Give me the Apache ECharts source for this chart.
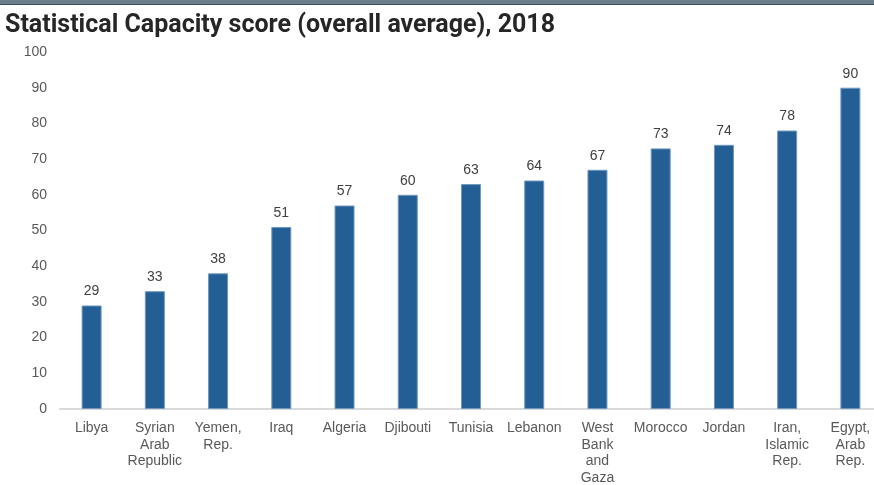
<!DOCTYPE html>
<html>
<head>
<meta charset="utf-8">
<script src="https://cdn.jsdelivr.net/npm/echarts@6/dist/echarts.min.js"></script>
<style>
  html, body { margin: 0; padding: 0; background: #fff; }
  #chart { width: 874px; height: 485px; }
</style>
</head>
<body>
<div id="chart"></div>
<script>
// Statistical Capacity scores, 2018
var countries = [
  'Libya', 'Syrian\nArab\nRepublic', 'Yemen,\nRep.', 'Iraq', 'Algeria', 'Djibouti',
  'Tunisia', 'Lebanon', 'West\nBank\nand\nGaza', 'Morocco', 'Jordan',
  'Iran,\nIslamic\nRep.', 'Egypt,\nArab\nRep.'
];
var scores = [29, 33, 38, 51, 57, 60, 63, 64, 67, 73, 74, 78, 90];
var yTicks = { min: 0, max: 100, step: 10 };
var titleText = 'Statistical Capacity score (overall average), 2018';

var chart = echarts.init(document.getElementById('chart'), null, { renderer: 'canvas' });
chart.setOption({
  animation: false,
  backgroundColor: '#ffffff',
  graphic: [
    { type: 'rect', left: 0, top: 0, shape: { width: 874, height: 4 }, style: { fill: '#6b7f8a' } },
    { type: 'rect', left: 0, top: 4, shape: { width: 874, height: 1 }, style: { fill: '#3d4a52' } }
  ],
  title: {
    text: titleText,
    left: 0,
    top: 8,
    textStyle: {
      fontFamily: 'Roboto, sans-serif',
      fontWeight: 'bold',
      fontSize: 25,
      color: '#262626'
    }
  },
  grid: { left: 60, top: 52, width: 822, height: 357, containLabel: false, outerBoundsMode: 'none' },
  xAxis: {
    type: 'category',
    data: countries,
    axisLine: { show: true, lineStyle: { color: '#d9d9d9', width: 2 } },
    axisTick: { show: false },
    axisLabel: {
      interval: 0,
      margin: 11,
      fontFamily: '"Liberation Sans", Arial, sans-serif',
      fontSize: 14,
      lineHeight: 16.5,
      color: '#595959'
    }
  },
  yAxis: {
    type: 'value',
    min: yTicks.min,
    max: yTicks.max,
    interval: yTicks.step,
    splitLine: { show: false },
    axisLine: { show: false },
    axisTick: { show: false },
    axisLabel: {
      margin: 13,
      fontFamily: '"Liberation Sans", Arial, sans-serif',
      fontSize: 14,
      color: '#595959'
    }
  },
  series: [{
    type: 'bar',
    data: scores,
    barWidth: 20,
    itemStyle: { color: '#235f95', borderColor: '#6f98c0', borderWidth: 1 },
    label: {
      show: true,
      position: 'top',
      distance: 7,
      fontFamily: '"Liberation Sans", Arial, sans-serif',
      fontSize: 14,
      color: '#404040'
    }
  }]
});
</script>
</body>
</html>
